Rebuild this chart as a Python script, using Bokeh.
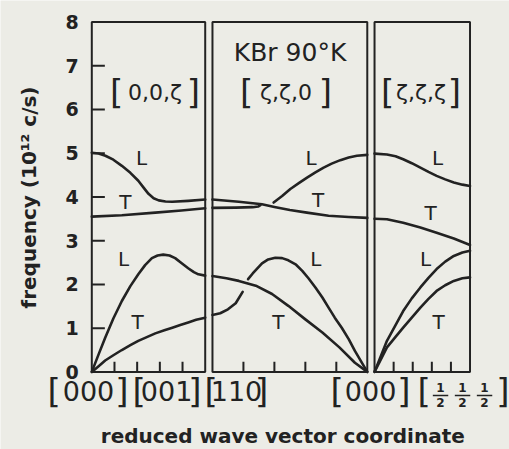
import numpy as np
from bokeh.plotting import figure
from bokeh.models import Range1d
from bokeh.core.properties import value
from bokeh.embed import file_html
from bokeh.resources import INLINE

INK = "#222222"
PAPER = "#ECECE6"
FONT = "DejaVu Sans"

# Horizontal layout: each symmetry direction gets its own box along a combined abscissa
# (unit = length of the [000]-[001] segment).
PANEL_LO = [0.0, 1.064, 2.493]
PANEL_HI = [1.0, 2.429, 3.335]

freq_ticks = [0, 1, 2, 3, 4, 5, 6, 7, 8]
freq_tick_labels = ["0", "1", "2", "3", "4", "5", "6", "7", "8"]
inner_freq_ticks = [1, 2, 3, 4, 5, 6, 7]
path_ticks = [0.2, 0.4, 0.6, 0.8]

# ---- dispersion branches: s = fraction along the panel, f = frequency (10^12 c/s) ----
# [0,0,ζ]   from [000] to [001]
d00z_LO_s = [0, 0.06, 0.12, 0.19, 0.265, 0.34, 0.41, 0.46, 0.50, 0.545, 0.59, 0.65, 0.71, 0.85, 1.0]
d00z_LO_f = [5.01, 4.99, 4.94, 4.85, 4.71, 4.55, 4.37, 4.20, 4.07, 3.97, 3.92, 3.895, 3.89, 3.91, 3.94]
d00z_TO_s = [0, 0.265, 0.56, 0.79, 1.0]
d00z_TO_f = [3.55, 3.58, 3.64, 3.69, 3.74]
d00z_LA_s = [0, 0.06, 0.118, 0.19, 0.265, 0.34, 0.41, 0.47, 0.53, 0.58, 0.63, 0.685, 0.735, 0.79, 0.85, 0.90, 0.94, 1.0]
d00z_LA_f = [0, 0.40, 0.78, 1.22, 1.62, 1.96, 2.23, 2.44, 2.60, 2.66, 2.68, 2.66, 2.60, 2.49, 2.37, 2.28, 2.23, 2.20]
d00z_TA_s = [0, 0.06, 0.118, 0.19, 0.265, 0.34, 0.41, 0.49, 0.56, 0.64, 0.71, 0.78, 0.85, 0.92, 1.0]
d00z_TA_f = [0, 0.13, 0.26, 0.38, 0.50, 0.61, 0.71, 0.80, 0.88, 0.95, 1.01, 1.07, 1.13, 1.19, 1.24]

# [ζ,ζ,0]   from [110] to [000]
dzz0_A_s = [0, 0.17, 0.32, 0.40, 0.5, 0.61, 0.75, 0.88, 1.0]
dzz0_A_f = [3.94, 3.89, 3.83, 3.77, 3.70, 3.64, 3.57, 3.54, 3.52]
dzz0_B_s = [0, 0.15, 0.26, 0.295, 0.31]
dzz0_B_f = [3.75, 3.755, 3.765, 3.78, 3.81]
dzz0_LO_s = [0.395, 0.45, 0.503, 0.56, 0.611, 0.665, 0.718, 0.77, 0.826, 0.88, 0.933, 1.0]
dzz0_LO_f = [3.87, 4.02, 4.18, 4.32, 4.44, 4.56, 4.67, 4.76, 4.84, 4.90, 4.94, 4.96]
dzz0_TA_s = [0, 0.09, 0.17, 0.28, 0.385, 0.49, 0.60, 0.71, 0.82, 0.92, 1.0]
dzz0_TA_f = [2.19, 2.14, 2.08, 1.97, 1.78, 1.51, 1.20, 0.90, 0.56, 0.21, 0]
dzz0_LA1_s = [0, 0.05, 0.10, 0.15, 0.195]
dzz0_LA1_f = [1.30, 1.34, 1.43, 1.57, 1.83]
dzz0_LA2_s = [0.23, 0.26, 0.32, 0.36, 0.406, 0.45, 0.49, 0.54, 0.58, 0.62, 0.665, 0.71, 0.75, 0.79, 0.835, 0.88, 0.92, 0.96, 1.0]
dzz0_LA2_f = [2.12, 2.25, 2.48, 2.57, 2.61, 2.60, 2.55, 2.45, 2.31, 2.14, 1.93, 1.70, 1.47, 1.24, 1.01, 0.75, 0.48, 0.24, 0]

# [ζ,ζ,ζ]   from [000] to [½,½,½]
dzzz_LO_s = [0, 0.13, 0.22, 0.30, 0.39, 0.48, 0.565, 0.65, 0.74, 0.83, 0.92, 1.0]
dzzz_LO_f = [4.99, 4.97, 4.93, 4.86, 4.77, 4.67, 4.57, 4.48, 4.40, 4.33, 4.28, 4.25]
dzzz_TO_s = [0, 0.13, 0.30, 0.48, 0.65, 0.83, 1.0]
dzzz_TO_f = [3.50, 3.49, 3.41, 3.30, 3.18, 3.05, 2.90]
dzzz_LA_s = [0, 0.13, 0.22, 0.30, 0.39, 0.48, 0.565, 0.65, 0.74, 0.83, 0.92, 1.0]
dzzz_LA_f = [0, 0.71, 1.07, 1.39, 1.68, 1.93, 2.15, 2.35, 2.52, 2.65, 2.73, 2.77]
dzzz_TA_s = [0, 0.13, 0.22, 0.30, 0.39, 0.48, 0.565, 0.65, 0.74, 0.83, 0.92, 1.0]
dzzz_TA_f = [0, 0.56, 0.80, 1.01, 1.24, 1.47, 1.67, 1.85, 1.98, 2.08, 2.14, 2.16]

branches = [
    (0, d00z_LO_s, d00z_LO_f), (0, d00z_TO_s, d00z_TO_f),
    (0, d00z_LA_s, d00z_LA_f), (0, d00z_TA_s, d00z_TA_f),
    (1, dzz0_A_s, dzz0_A_f), (1, dzz0_B_s, dzz0_B_f), (1, dzz0_LO_s, dzz0_LO_f),
    (1, dzz0_TA_s, dzz0_TA_f), (1, dzz0_LA1_s, dzz0_LA1_f), (1, dzz0_LA2_s, dzz0_LA2_f),
    (2, dzzz_LO_s, dzzz_LO_f), (2, dzzz_TO_s, dzzz_TO_f),
    (2, dzzz_LA_s, dzzz_LA_f), (2, dzzz_TA_s, dzzz_TA_f),
]

# branch polarisation labels: panel, fraction, frequency, letter
pol_panel = [0, 0, 0, 0, 1, 1, 1, 1, 2, 2, 2, 2]
pol_s = [0.438, 0.297, 0.280, 0.403, 0.637, 0.682, 0.668, 0.426, 0.661, 0.588, 0.535, 0.670]
pol_f = [4.88, 3.89, 2.59, 1.13, 4.90, 3.92, 2.59, 1.13, 4.90, 3.64, 2.59, 1.13]
pol_txt = ["L", "T", "L", "T", "L", "T", "L", "T", "L", "T", "L", "T"]

direction_txt = ["0,0,ζ", "ζ,ζ,0", "ζ,ζ,ζ"]
point_txt = ["000", "001", "110", "000"]


def along(panel, s):
    s = np.asarray(s, dtype=float)
    return PANEL_LO[panel] + s * (PANEL_HI[panel] - PANEL_LO[panel])


def txt(x, y, t, size, align="center", style="normal", angle=0.0):
    p.text(x=x, y=y, text=t, angle=angle, text_font=value(FONT), text_font_size=size,
           text_font_style=style, text_color=INK, text_align=align, text_baseline="middle")


p = figure(width=509, height=449,
           x_range=Range1d(-0.805, 3.683), y_range=Range1d(-1.774, 8.489),
           min_border=0, x_axis_location=None, y_axis_location=None,
           toolbar_location=None, output_backend="svg",
           background_fill_color=PAPER, border_fill_color=PAPER, outline_line_color=None)
p.xgrid.visible = False
p.ygrid.visible = False

# panel boxes
p.quad(left=PANEL_LO, right=PANEL_HI, bottom=freq_ticks[0], top=freq_ticks[-1],
       fill_color=None, line_color=INK, line_width=2)

# frequency scale on the first box
p.segment(x0=[0.0] * len(inner_freq_ticks), x1=[0.115] * len(inner_freq_ticks),
          y0=inner_freq_ticks, y1=inner_freq_ticks, line_color=INK, line_width=2)
txt([-0.115] * len(freq_ticks), freq_ticks, freq_tick_labels, "19px", align="right", style="bold")
txt([-0.558], [3.986], ["frequency (10¹² c/s)"], "20px", style="bold", angle=np.pi / 2)

# wave-vector ticks along each box floor
tx = np.concatenate([along(k, path_ticks) for k in range(3)])
p.segment(x0=tx, x1=tx, y0=0.0, y1=0.23, line_color=INK, line_width=2)

for panel, s, f in branches:
    p.line(along(panel, s), f, line_color=INK, line_width=2.6,
           line_cap="round", line_join="round")

pol_x = [float(along(k, s)) for k, s in zip(pol_panel, pol_s)]
txt(pol_x, pol_f, pol_txt, "20px")

txt([1.748], [7.30], ["KBr 90°K"], "25px")

# direction labels in each box
dir_x = [0.557, 1.712, 2.903]
lb_x = [0.160, 1.306, 2.549]
rb_x = [0.955, 2.119, 3.256]
txt(dir_x, [6.39] * 3, direction_txt, "22px")
txt(lb_x, [6.39] * 3, ["["] * 3, "34px", align="left")
txt(rb_x, [6.39] * 3, ["]"] * 3, "34px", align="right")

# symmetry-point labels under the boxes
pt_x = [-0.029, 0.659, 1.276, 2.458]
pt_lb = [-0.390, 0.359, 0.994, 2.105, 2.872]
pt_rb = [0.323, 0.967, 1.557, 2.810, 3.683]
txt(pt_x, [-0.448] * 4, point_txt, "27px")
txt(pt_lb, [-0.448] * 5, ["["] * 5, "34px", align="left")
txt(pt_rb, [-0.448] * 5, ["]"] * 5, "34px", align="right")

# the [½ ½ ½] point written as stacked fractions
frac_x = [3.075, 3.269, 3.463]
txt(frac_x, [-0.357] * 3, ["1"] * 3, "12px", style="bold")
txt(frac_x, [-0.70] * 3, ["2"] * 3, "12px", style="bold")
fx = np.asarray(frac_x)
p.segment(x0=fx - 0.068, x1=fx + 0.068, y0=-0.539, y1=-0.539, line_color=INK, line_width=1.6)

txt([1.684], [-1.454], ["reduced wave vector coordinate"], "20px", style="bold")

open("out.html", "w").write(file_html(p, INLINE))
